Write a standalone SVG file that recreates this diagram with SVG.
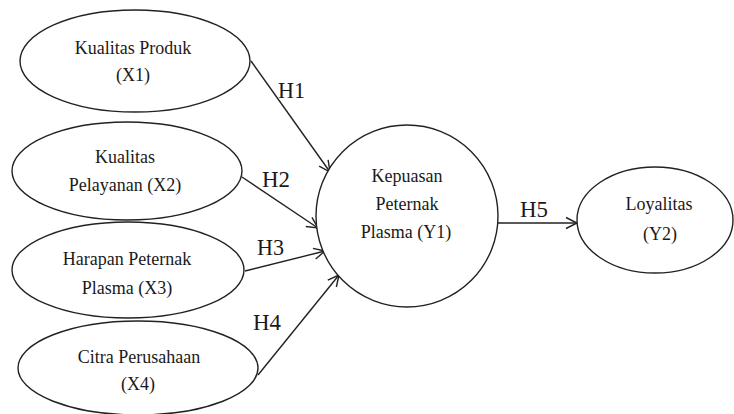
<svg xmlns="http://www.w3.org/2000/svg" width="734" height="414" viewBox="0 0 734 414">
<style>
.n{fill:#fff;stroke:#222;stroke-width:1.4}
.t{font-family:"Liberation Serif","Times New Roman",serif;font-size:18px;fill:#1a1a1a;text-anchor:middle}
.h{font-family:"Liberation Serif","Times New Roman",serif;font-size:24px;fill:#1a1a1a}
.c{stroke:#222;stroke-width:1.4;fill:none;marker-end:url(#a)}
</style>
<defs>
<marker id="a" markerUnits="userSpaceOnUse" markerWidth="14" markerHeight="14" viewBox="-12 -7 14 14" refX="0" refY="0" orient="auto">
<path d="M-11,-5.5 L0,0 L-11,5.5" fill="none" stroke="#222" stroke-width="1.4"/>
</marker>
</defs>
<rect width="734" height="414" fill="#fff"/>
<g id="connectors">
<line class="c" x1="251" y1="61" x2="330" y2="172"/>
<line class="c" x1="242" y1="177" x2="318" y2="228"/>
<line class="c" x1="245" y1="271" x2="325" y2="251"/>
<line class="c" x1="258" y1="375" x2="339" y2="275"/>
<line class="c" x1="498" y1="223" x2="577" y2="223"/>
<text class="h" x="278" y="98" textLength="27" lengthAdjust="spacingAndGlyphs">H1</text>
<text class="h" x="262" y="187" textLength="28" lengthAdjust="spacingAndGlyphs">H2</text>
<text class="h" x="257" y="255" textLength="27" lengthAdjust="spacingAndGlyphs">H3</text>
<text class="h" x="253" y="330" textLength="28" lengthAdjust="spacingAndGlyphs">H4</text>
<text class="h" x="520" y="217" textLength="28" lengthAdjust="spacingAndGlyphs">H5</text>
</g>
<g id="x1">
<ellipse class="n" cx="135" cy="61" rx="115" ry="51"/>
<text class="t" x="133" y="54">Kualitas Produk</text>
<text class="t" x="133" y="81">(X1)</text>
</g>
<g id="x2">
<ellipse class="n" cx="127" cy="171" rx="115" ry="49"/>
<text class="t" x="125" y="163">Kualitas</text>
<text class="t" x="125" y="191">Pelayanan (X2)</text>
</g>
<g id="x3">
<ellipse class="n" cx="128" cy="270" rx="116" ry="48"/>
<text class="t" x="127" y="265">Harapan Peternak</text>
<text class="t" x="127" y="294">Plasma (X3)</text>
</g>
<g id="x4">
<ellipse class="n" cx="138" cy="368" rx="120" ry="47"/>
<text class="t" x="139" y="363">Citra Perusahaan</text>
<text class="t" x="138" y="390">(X4)</text>
</g>
<g id="y1">
<circle class="n" cx="407" cy="216" r="91"/>
<text class="t" x="407" y="182">Kepuasan</text>
<text class="t" x="407" y="210">Peternak</text>
<text class="t" x="406" y="238">Plasma (Y1)</text>
</g>
<g id="y2">
<ellipse class="n" cx="655" cy="220" rx="78" ry="53"/>
<text class="t" x="659" y="210">Loyalitas</text>
<text class="t" x="660" y="240">(Y2)</text>
</g>
</svg>
